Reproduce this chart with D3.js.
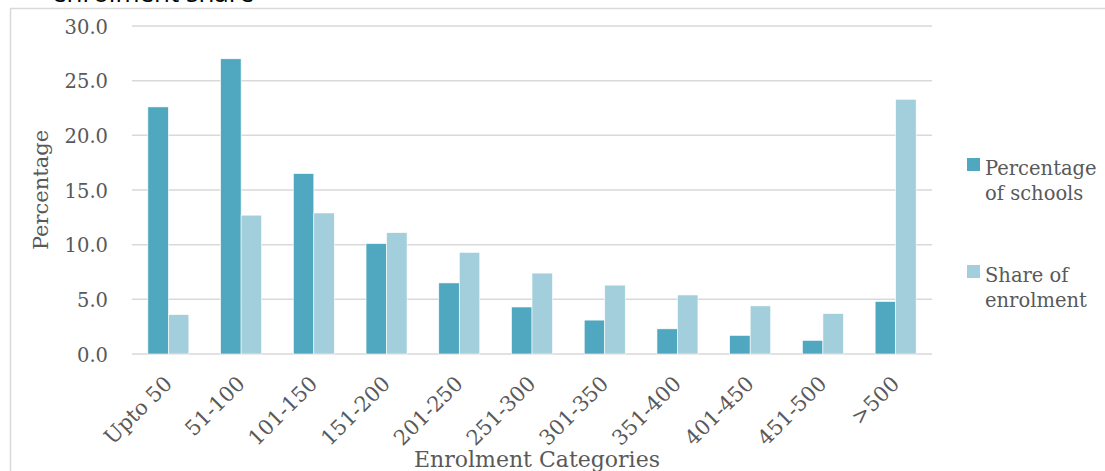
<!DOCTYPE html>
<html><head><meta charset="utf-8">
<script src="https://cdn.jsdelivr.net/npm/d3@7/dist/d3.min.js"></script>
<style>body{margin:0;background:#fff}svg{display:block}</style>
</head><body>
<svg id="c" width="1105" height="471"></svg>
<script>
const categories = ["Upto 50","51-100","101-150","151-200","201-250","251-300","301-350","351-400","401-450","451-500",">500"];
const percentageOfSchools = [22.6,27.0,16.5,10.1,6.5,4.3,3.1,2.3,1.7,1.25,4.8];
const shareOfEnrolment = [3.6,12.7,12.9,11.1,9.3,7.4,6.3,5.4,4.4,3.7,23.3];
const seriesNames = ["Percentage of schools","Share of enrolment"];
const yTicks = [0,5,10,15,20,25,30];

const colors = ["#4fa8bf","#a3cfdd"];
const textColor = "#595959";
const font = "'DejaVu Serif', serif";
const svg = d3.select("#c");

// chart border and cut-off title
svg.append("rect").attr("x",10.5).attr("y",8.5).attr("width",1200).attr("height",600)
  .attr("fill","none").attr("stroke","#d9d9d9").attr("stroke-width",1.5);
svg.append("text").attr("x",52).attr("y",2).text("enrolment share")
  .attr("font-family","'Open Sans', sans-serif").attr("font-size",26).attr("fill","#000");

const x0 = 132, x1 = 932, y0 = 354, y1 = 26;
const x = d3.scaleBand().domain(categories).range([x0,x1]).paddingInner(0).paddingOuter(0);
const y = d3.scaleLinear().domain([0,30]).range([y0,y1]);
const barW = 20.5;

// gridlines
svg.append("g").selectAll("line").data(yTicks).join("line")
  .attr("x1",x0).attr("x2",x1).attr("y1",d=>y(d)).attr("y2",d=>y(d))
  .attr("stroke","#d9d9d9").attr("stroke-width",1.5);

// y axis labels
const yAxis = d3.axisLeft(y).tickValues(yTicks).tickFormat(d3.format(".1f")).tickSize(0).tickPadding(0);
const gy = svg.append("g").attr("transform",`translate(108,0)`).call(yAxis);
gy.select(".domain").remove();
gy.selectAll("text").attr("font-family",font).attr("font-size",19.5).attr("fill",textColor).attr("dy","0.36em");

// bars
const data = categories.map((c,i)=>({c, v:[percentageOfSchools[i], shareOfEnrolment[i]]}));
const g = svg.append("g");
data.forEach(d=>{
  const cx = x(d.c) + x.bandwidth()/2;
  d.v.forEach((v,j)=>{
    g.append("rect")
      .attr("x", cx - barW + j*barW)
      .attr("y", y(v))
      .attr("width", barW)
      .attr("height", y0 - y(v))
      .attr("fill", colors[j])
      .attr("stroke","#fff").attr("stroke-width",0.6);
  });
});

// x axis labels
const xAxis = d3.axisBottom(x).tickSize(0).tickPadding(0);
const gx = svg.append("g").attr("transform",`translate(0,${y0})`).call(xAxis);
gx.select(".domain").remove();
gx.selectAll("text")
  .attr("font-family",font).attr("font-size",21).attr("fill",textColor)
  .attr("text-anchor","end").attr("dy",0).attr("y",0)
  .attr("transform","translate(5,31) rotate(-45)");

// axis titles
svg.append("text").attr("transform","translate(48,190) rotate(-90)").attr("text-anchor","middle")
  .attr("font-family",font).attr("font-size",21).attr("fill",textColor).text("Percentage");
svg.append("text").attr("x",537).attr("y",467).attr("text-anchor","middle")
  .attr("font-family",font).attr("font-size",22).attr("fill",textColor).text("Enrolment Categories");

// legend
const legendLines = [["Percentage","of schools"],["Share of","enrolment"]];
const legendY = [158, 265];
seriesNames.forEach((s,i)=>{
  svg.append("rect").attr("x",967).attr("y",legendY[i]).attr("width",13).attr("height",13).attr("fill",colors[i]);
  const t = svg.append("text").attr("font-family",font).attr("font-size",19.5).attr("fill",textColor);
  legendLines[i].forEach((ln,k)=>{
    t.append("tspan").attr("x",985).attr("y",legendY[i]+17+k*25).text(ln);
  });
});
</script>
</body></html>
